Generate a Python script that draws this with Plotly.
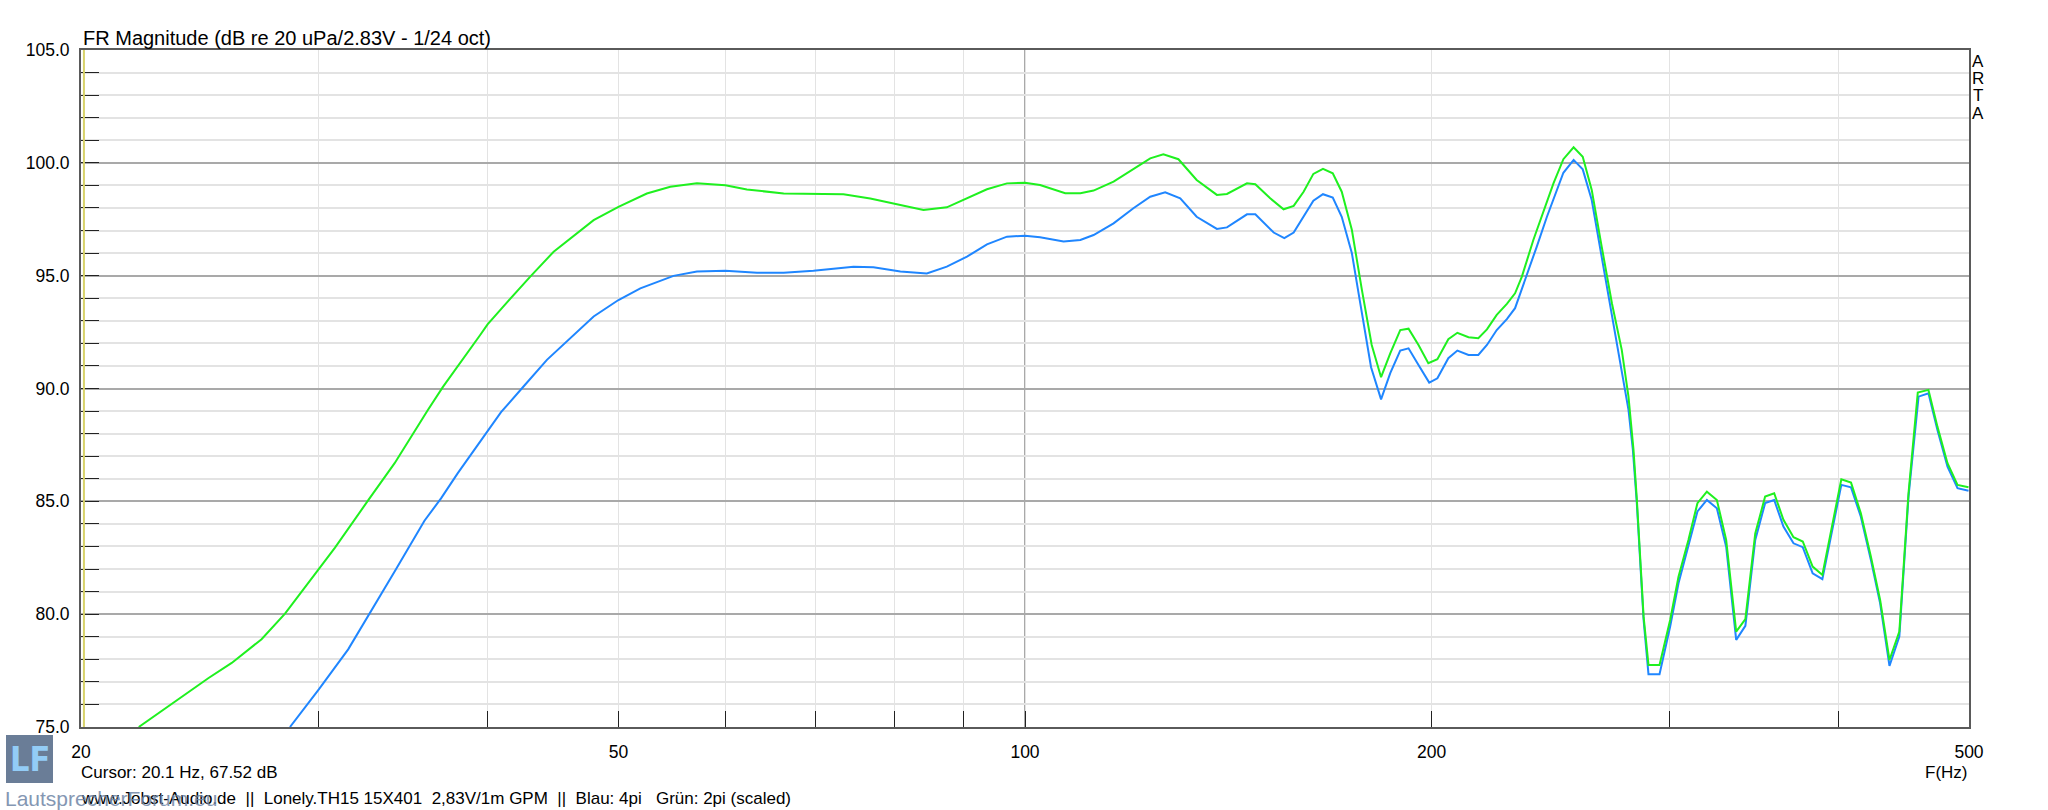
import math
import plotly.graph_objects as go

# ---------------- data ----------------
freq_green = [22.07, 23.35, 24.86, 25.86, 27.21, 28.32, 30.0, 30.83, 32.63, 34.14,
              36.13, 37.07, 39.5, 40.0, 40.93, 43.02, 44.77, 47.93, 50.0, 52.48,
              54.62, 57.16, 60.0, 62.24, 66.27, 70.0, 73.38, 76.81, 80.0, 84.11,
              87.52, 90.58, 93.72, 96.97, 100.0, 102.6, 107.1, 109.9, 112.4, 116.3,
              120.3, 123.8, 126.6, 129.9, 134.0, 138.7, 141.1, 146.0, 148.1, 151.9,
              155.4, 158.1, 160.8, 163.5, 166.2, 169.0, 171.6, 174.6, 177.6, 180.6,
              183.5, 186.4, 189.6, 192.3, 195.6, 198.9, 202.0, 205.8, 209.0, 213.0,
              216.6, 219.8, 223.5, 227.4, 230.6, 233.3, 237.9, 242.0, 246.2, 250.4,
              254.8, 258.8, 262.8, 267.3, 272.0, 276.6, 279.8, 282.2, 283.8, 287.1,
              289.5, 295.0, 300.4, 304.7, 309.9, 314.7, 319.8, 325.3, 330.5, 336.2,
              341.5, 347.3, 353.2, 358.7, 364.4, 370.7, 376.6, 383.0, 389.4, 395.8,
              402.2, 408.9, 415.8, 423.0, 429.7, 436.6, 444.0, 451.0, 458.2, 466.6,
              473.8, 482.0, 490.3, 499.6]
spl_green = [75.0, 76.04, 77.17, 77.84, 78.89, 80.02, 81.97, 82.94, 85.04, 86.69,
             89.05, 90.07, 92.37, 92.84, 93.52, 94.96, 96.06, 97.46, 98.05, 98.64,
             98.94, 99.09, 99.01, 98.82, 98.64, 98.64, 98.61, 98.42, 98.18, 97.91,
             98.03, 98.43, 98.83, 99.09, 99.12, 99.02, 98.65, 98.65, 98.77, 99.17,
             99.71, 100.2, 100.38, 100.16, 99.24, 98.58, 98.62, 99.09, 99.05, 98.43,
             97.94, 98.09, 98.72, 99.51, 99.73, 99.54, 98.72, 97.02, 94.37, 91.93,
             90.5, 91.56, 92.59, 92.65, 91.93, 91.12, 91.30, 92.18, 92.47, 92.27,
             92.23, 92.62, 93.26, 93.75, 94.22, 94.96, 96.58, 97.84, 99.09, 100.16,
             100.69, 100.27, 98.80, 96.29, 93.78, 91.71, 89.64, 87.28, 85.1, 79.89,
             77.75, 77.75, 79.74, 81.66, 83.29, 84.92, 85.43, 85.06, 83.29, 79.23,
             79.78, 83.58, 85.21, 85.36, 84.18, 83.41, 83.22, 82.11, 81.74, 83.88,
             85.98, 85.83, 84.47, 82.55, 80.63, 77.97, 79.23, 85.36, 89.82, 89.94,
             88.31, 86.69, 85.73, 85.62]

freq_blue = [28.56, 30.0, 31.54, 32.72, 34.14, 35.92, 36.96, 38.01, 40.0,
             40.93, 42.53, 44.26, 47.93, 50.0, 51.9, 54.92, 57.16, 60.0, 63.32,
             66.27, 69.72, 74.65, 77.23, 80.86, 84.59, 87.52, 90.58, 93.72, 96.97,
             100.0, 102.6, 106.8, 109.9, 112.4, 116.3, 120.3, 123.8, 127.0, 130.3,
             134.0, 138.7, 141.1, 146.0, 148.1, 152.8, 155.6, 158.1, 160.8, 163.5,
             166.2, 169.0, 171.6, 174.6, 177.1, 180.4, 183.5, 186.4, 189.6, 192.3,
             195.6, 199.2, 202.0, 205.8, 209.0, 213.0, 216.6, 219.8, 223.5, 227.4,
             230.6, 234.6, 239.3, 243.4, 250.4, 254.8, 258.8, 262.8, 267.3, 272.0,
             275.8, 279.8, 281.9, 283.8, 287.1, 289.5, 295.0, 300.4, 304.7, 309.9,
             314.7, 319.8, 325.3, 330.5, 336.2, 341.5, 347.3, 353.2, 358.7, 364.4,
             370.7, 376.6, 383.0, 389.4, 395.8, 402.2, 408.9, 415.8, 423.0, 429.7,
             436.6, 444.0, 451.0, 458.8, 466.6, 473.8, 482.0, 490.3, 499.6]
spl_blue = [75.0, 76.67, 78.44, 80.02, 81.89, 84.14, 85.14, 86.24, 88.1,
            88.95, 90.09, 91.27, 93.19, 93.92, 94.44, 94.99, 95.18, 95.22, 95.13,
            95.13, 95.22, 95.40, 95.37, 95.18, 95.10, 95.40, 95.84, 96.39, 96.73,
            96.77, 96.70, 96.51, 96.58, 96.80, 97.32, 97.99, 98.50, 98.69, 98.43,
            97.61, 97.07, 97.14, 97.72, 97.72, 96.91, 96.66, 96.91, 97.59, 98.32,
            98.61, 98.46, 97.61, 95.99, 93.78, 90.94, 89.52, 90.68, 91.68, 91.78,
            91.04, 90.26, 90.45, 91.34, 91.68, 91.49, 91.49, 91.93, 92.59, 93.07,
            93.56, 94.81, 96.29, 97.59, 99.56, 100.13, 99.71, 98.35, 95.84, 93.33,
            91.34, 89.05, 87.28, 84.92, 79.74, 77.34, 77.34, 79.45, 81.37, 82.99,
            84.55, 85.06, 84.69, 82.99, 78.86, 79.48, 83.29, 84.92, 85.06, 83.88,
            83.14, 82.97, 81.81, 81.55, 83.73, 85.73, 85.62, 84.32, 82.40, 80.48,
            77.71, 79.01, 85.21, 89.64, 89.79, 88.16, 86.54, 85.58, 85.47]

x_tick_vals = [20, 30, 40, 50, 60, 70, 80, 90, 100, 200, 300, 400, 500]
x_tick_text = ["20", "", "", "50", "", "", "", "", "100", "200", "", "", "500"]
y_tick_vals = [75, 80, 85, 90, 95, 100, 105]
x_range_hz = [20, 500]
y_range_db = [75, 105]

cursor_freq = 20.1
cursor_db = 67.52

title_text = "FR Magnitude (dB re 20 uPa/2.83V - 1/24 oct)"
footer_text = ("www.Jobst-Audio.de&nbsp;&nbsp;||&nbsp;&nbsp;Lonely.TH15 15X401&nbsp;&nbsp;2,83V/1m GPM"
               "&nbsp;&nbsp;||&nbsp;&nbsp;Blau: 4pi&nbsp;&nbsp;&nbsp;Grün: 2pi (scaled)")

# ---------------- layout geometry ----------------
W, H = 2048, 810
L, R, T, B = 81, 1969, 50, 727
FONT = "Liberation Sans, Arial, sans-serif"


def px(x):
    return (x - L) / (R - L)


def py(y):
    return (B - y) / (B - T)


fig = go.Figure()
fig.add_trace(go.Scatter(x=freq_blue, y=spl_blue, mode="lines",
                         line=dict(color="#1f86ff", width=2), name="Blau: 4pi",
                         hoverinfo="skip"))
fig.add_trace(go.Scatter(x=freq_green, y=spl_green, mode="lines",
                         line=dict(color="#1ff01f", width=2), name="Grün: 2pi",
                         hoverinfo="skip"))

annotations = [
    dict(text=title_text, x=px(81), y=py(38), xanchor="left", yanchor="middle",
         font=dict(size=20, color="#000")),
    dict(text="Cursor: %.1f Hz, %.2f dB" % (cursor_freq, cursor_db), x=px(79), y=py(772),
         xanchor="left", yanchor="middle", font=dict(size=17, color="#000")),
    dict(text=footer_text, x=px(79), y=py(798), xanchor="left", yanchor="middle",
         font=dict(size=17, color="#000")),
    dict(text="F(Hz)", x=px(1969), y=py(772), xanchor="right", yanchor="middle",
         font=dict(size=17, color="#000")),
    # logo
    dict(text="<b>LF</b>", x=px(29.5), y=py(759), xanchor="center", yanchor="middle",
         font=dict(size=34, color="#93ccf6", family="DejaVu Sans Condensed, Liberation Sans"),
         opacity=1.0),
    dict(text="LautsprecherForum.eu", x=px(3), y=py(798), xanchor="left", yanchor="middle",
         font=dict(size=21, color="#6f86a6"), opacity=0.85),
]
for i, ch in enumerate("ARTA"):
    annotations.append(dict(text=ch, x=px(1978), y=py(61 + i * 17.5), xanchor="center",
                            yanchor="middle", font=dict(size=17, color="#000")))
for a in annotations:
    a.update(xref="paper", yref="paper", showarrow=False)
    a["font"].setdefault("family", FONT)

shapes = [
    # decade grid line at 100 Hz (darker)
    dict(type="line", xref="x", yref="paper", x0=100, x1=100, y0=0, y1=1,
         line=dict(color="#a9a9a9", width=2), layer="below"),
    # cursor line
    dict(type="line", xref="x", yref="paper", x0=cursor_freq, x1=cursor_freq, y0=0, y1=1,
         line=dict(color="#d8d26a", width=2), layer="above"),
    # logo square
    dict(type="rect", xref="paper", yref="paper", x0=px(6), x1=px(53), y0=py(783), y1=py(735),
         fillcolor="#6a7d97", line=dict(width=0), layer="above"),
]

fig.update_layout(
    width=W, height=H,
    margin=dict(l=L, r=W - R, t=T, b=H - B, pad=0, autoexpand=False),
    paper_bgcolor="white", plot_bgcolor="white",
    showlegend=False,
    font=dict(family=FONT, size=17, color="#000"),
    annotations=annotations,
    shapes=shapes,
    xaxis=dict(
        type="log", range=[math.log10(x_range_hz[0]), math.log10(x_range_hz[1])],
        tickmode="array", tickvals=x_tick_vals, ticktext=x_tick_text,
        ticks="inside", ticklen=16, tickwidth=1, tickcolor="#222",
        showgrid=True, gridcolor="#e3e3e3", gridwidth=1,
        showline=True, linecolor="#5a5a5a", linewidth=2, mirror=True,
        zeroline=False, ticklabelstandoff=8, automargin=False,
        tickfont=dict(size=17.5, family=FONT, color="#000"),
    ),
    yaxis=dict(
        range=y_range_db, tickmode="array", tickvals=y_tick_vals, tickformat=".1f",
        ticks="inside", ticklen=18, tickwidth=1, tickcolor="#222",
        showgrid=True, gridcolor="#a9a9a9", gridwidth=1.5,
        minor=dict(dtick=1, tick0=75, ticks="inside", ticklen=18, tickwidth=1,
                   tickcolor="#222", showgrid=True, gridcolor="#e3e3e3", gridwidth=1.5),
        showline=True, linecolor="#5a5a5a", linewidth=2, mirror=True,
        zeroline=False, ticklabelstandoff=6, automargin=False,
        tickfont=dict(size=17.5, family=FONT, color="#000"),
    ),
)

fig.write_html("out.html",
               config={"displayModeBar": False},
               post_script="document.body.style.margin='0px';document.body.style.overflow='hidden';")
